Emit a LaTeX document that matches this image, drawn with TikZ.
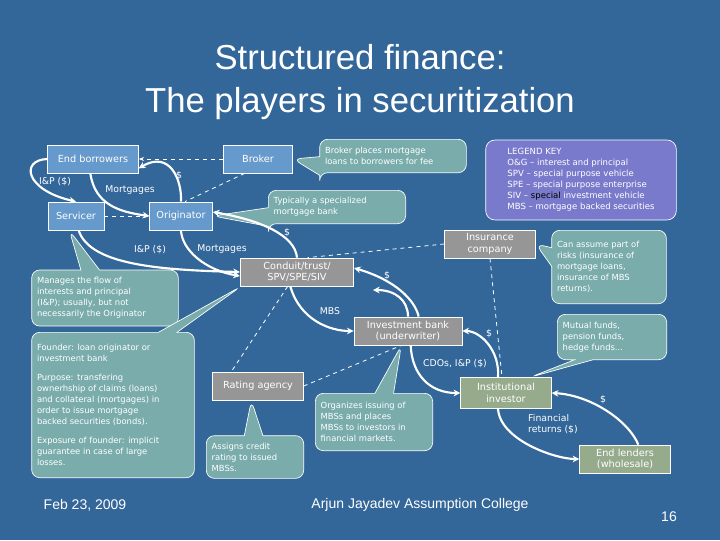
\documentclass[tikz,border=0pt]{standalone}
\usepackage{fontspec}
\setmainfont{DejaVu Sans}
\newfontfamily\titlefont{Liberation Sans}
\usetikzlibrary{shapes.callouts,arrows.meta}
\definecolor{bg}{RGB}{51,102,153}
\definecolor{bluebox}{RGB}{102,153,204}
\definecolor{graybox}{RGB}{150,150,150}
\definecolor{greenbox}{RGB}{150,170,140}
\definecolor{teal}{RGB}{122,172,172}
\definecolor{legend}{RGB}{122,122,204}
\begin{document}
\begin{tikzpicture}[x=0.75pt,y=-0.75pt,
  box/.style={draw=white,line width=0.6pt,text=white,font=\fontsize{7.3}{8.6}\selectfont,align=center,minimum height=21pt,inner sep=2pt},
  bb/.style={box,fill=bluebox},
  gb/.style={box,fill=graybox},
  nb/.style={box,fill=greenbox},
  call/.style={rectangle callout,draw=white,line width=0.5pt,fill=teal,rounded corners=6pt,text=white,font=\fontsize{6.3}{8.2}\selectfont,align=flush left,inner sep=4pt,callout pointer width=14pt},
  flow/.style={white,line width=1.6pt,-{Stealth[length=5pt,width=5pt]}},
  dsh/.style={white,dashed,line width=0.6pt},
  lbl/.style={text=white,font=\fontsize{7}{8}\selectfont,inner sep=1pt,align=left}]
\fill[bg] (0,0) rectangle (720,540);
\useasboundingbox (0,0) rectangle (720,540);
\node[text=white,font=\titlefont\fontsize{26}{32}\selectfont,align=center] (title) at (360,82) {Structured finance:\\The players in securitization};
% boxes
\node[bb,minimum width=68pt] (eb) at (93,159) {End borrowers};
\node[bb,minimum width=52pt] (br) at (258,159) {Broker};
\node[bb,minimum width=42pt] (sv) at (76,216) {Servicer};
\node[bb,minimum width=47pt] (or) at (181,216) {Originator};
\node[gb,minimum width=85pt] (cd) at (297,272) {Conduit/trust/\\SPV/SPE/SIV};
\node[gb,minimum width=68pt] (ic) at (490,244) {Insurance\\company};
\node[gb,minimum width=81pt] (ib) at (408,331) {Investment bank\\(underwriter)};
\node[gb,minimum width=68pt] (ra) at (258,386) {Rating agency};
\node[nb,minimum width=68pt,minimum height=23pt] (ii) at (506,393) {Institutional\\investor};
\node[nb,minimum width=68pt] (el) at (625,459) {End lenders\\(wholesale)};
% legend
\node[draw=white,line width=0.5pt,fill=legend,rounded corners=7pt,text=white,font=\fontsize{6.4}{8.2}\selectfont,align=left,minimum width=143pt,minimum height=60pt,inner sep=5pt] (lg) at (581,180) {LEGEND KEY\\O\&G -- interest and principal\\SPV -- special purpose vehicle\\SPE -- special purpose enterprise\\SIV -- \textcolor{black}{special} investment vehicle\\MBS -- mortgage backed securities};
% callouts
\node[call,text width=102pt,minimum height=25pt,callout absolute pointer={(br.east)}] (c1) at (393,156) {Broker places mortgage\\loans to borrowers for fee};
\node[call,text width=95pt,minimum height=25pt,callout absolute pointer={(or.east)}] (c2) at (337,207) {Typically a specialized\\mortgage bank};
\node[call,text width=102pt,minimum height=42pt,callout absolute pointer={([xshift=-5pt]sv.south)}] (c3) at (105,298) {Manages the flow of\\interests and principal\\(I\&P); usually, but not\\necessarily the Originator};
\node[call,text width=114pt,minimum height=109pt,callout absolute pointer={([xshift=-42pt]cd.south)}] (c4) at (113,405) {Founder: loan originator or\\investment bank\\[6pt]Purpose: transfering\\ownerhship of claims (loans)\\and collateral (mortgages) in\\order to issue mortgage\\backed securities (bonds).\\[6pt]Exposure of founder: implicit\\guarantee in case of large\\losses.};
\node[call,text width=65pt,minimum height=32pt,callout absolute pointer={([xshift=-5pt]ra.south)}] (c5) at (255,457) {Assigns credit\\rating to issued\\MBSs.};
\node[call,text width=80pt,minimum height=43pt,callout absolute pointer={([xshift=-5pt]ib.south)}] (c6) at (374,422) {Organizes issuing of\\MBSs and places\\MBSs to investors in\\financial markets.};
\node[call,text width=78pt,minimum height=55pt,callout absolute pointer={(ic.east)}] (c7) at (609,267) {Can assume part of\\risks (insurance of\\mortgage loans,\\insurance of MBS\\returns).};
\node[call,text width=74pt,minimum height=34pt,callout absolute pointer={([xshift=18pt]ii.north)}] (c8) at (612,337) {Mutual funds,\\pension funds,\\hedge funds...};
% dashed
\draw[dsh,-{Stealth[length=4pt]}] (br.west) -- (eb.east);
\draw[dsh,-{Stealth[length=4pt]}] (sv.east) -- (or.west);
\draw[dsh] ([xshift=-10pt]br.south) -- ([xshift=3pt]or.north);
\draw[dsh] (ic.west) -- ([xshift=8pt]cd.north);
\draw[dsh] (ic.south) -- ([xshift=-3pt]ii.north);
\draw[dsh] ([xshift=-7pt]cd.south) -- ([xshift=-20pt]ra.north);
\draw[dsh] (ra.east) -- ([xshift=-5pt]ib.south);
% flows
\draw[flow] (eb.west) .. controls (20,160) and (25,190) .. (sv.north);
\node[lbl] (l1) at (55,182) {I\&P (\$)};
\draw[flow] ([xshift=-2pt]eb.south) .. controls (95,205) and (120,212) .. (or.west);
\node[lbl] (l2) at (130,190) {Mortgages};
\draw[flow] (or.north) .. controls (182,180) and (170,150) .. ([yshift=-7pt]eb.east);
\node[lbl] (l3) at (179,176) {\$};
\draw[flow] ([xshift=2pt]sv.south) .. controls (90,265) and (160,270) .. (cd.west);
\node[lbl] (l4) at (150,250) {I\&P (\$)};
\draw[flow] (or.south) .. controls (182,250) and (205,270) .. ([yshift=-3pt]cd.west);
\node[lbl] (l5) at (222,249) {Mortgages};
\draw[flow] (cd.north) .. controls (295,235) and (260,220) .. ([yshift=3pt]or.east);
\node[lbl] (l6) at (287,233) {\$};
\draw[flow] ([xshift=-5pt]cd.south) .. controls (300,320) and (330,331) .. (ib.west);
\node[lbl] (l7) at (330,311) {MBS};
\draw[flow] ([xshift=8pt]ib.north) .. controls (415,300) and (395,280) .. ([yshift=3pt]cd.east);
\node[lbl] (l8) at (387,276) {\$};
\draw[flow] (ib.north) .. controls (408,300) and (395,290) .. (373,290);
\draw[flow] ([xshift=2pt]ib.south) .. controls (412,375) and (430,393) .. (ii.west);
\node[lbl] (l9) at (455,364) {CDOs, I\&P (\$)};
\draw[flow] ([xshift=-6pt]ii.north) .. controls (500,350) and (480,331) .. (ib.east);
\node[lbl] (l10) at (489,334) {\$};
\draw[flow] ([xshift=-6pt]ii.south) .. controls (500,440) and (555,459) .. (el.west);
\node[lbl] (l11) at (553,424) {Financial\\returns (\$)};
\draw[flow] ([xshift=10pt]el.north) .. controls (628,420) and (590,395) .. (ii.east);
\node[lbl] (l12) at (603,400) {\$};
% footer
\node[text=white,font=\titlefont\fontsize{10.5}{12}\selectfont] (d) at (85,505) {Feb 23, 2009};
\node[text=white,font=\titlefont\fontsize{10.5}{12}\selectfont] (a) at (420,505) {Arjun Jayadev Assumption College};
\node[text=white,font=\titlefont\fontsize{10.5}{12}\selectfont] (p) at (669,517) {16};
\end{tikzpicture}
\end{document}
